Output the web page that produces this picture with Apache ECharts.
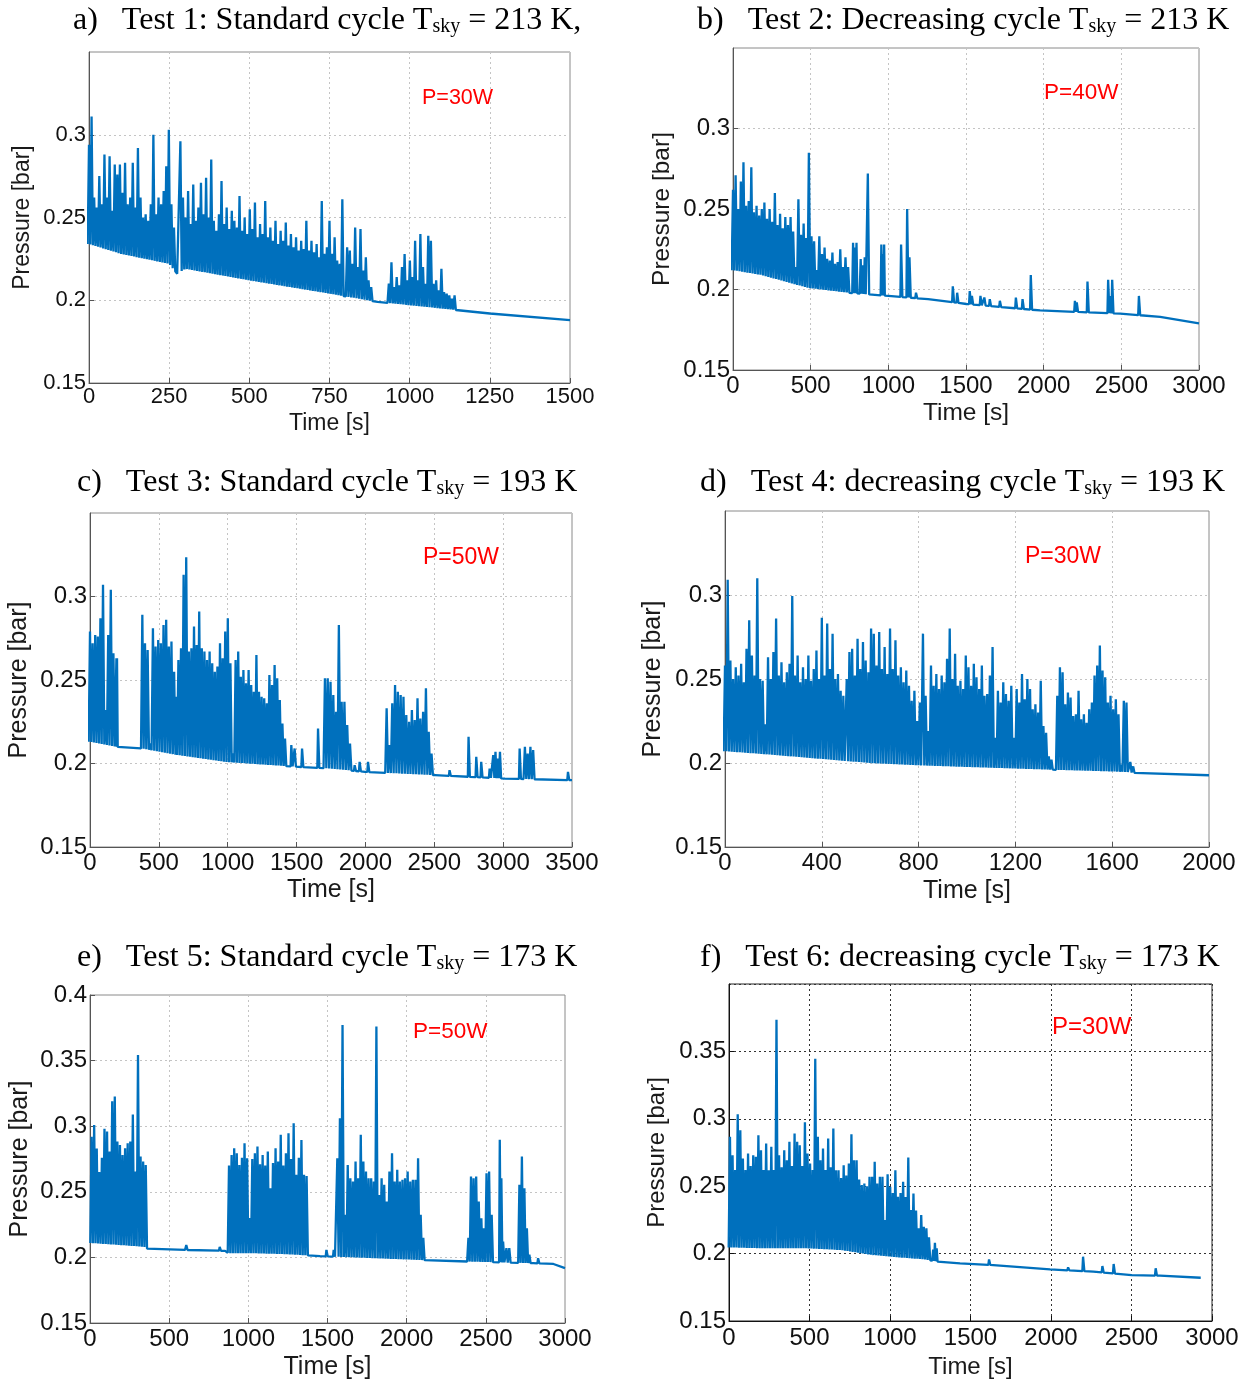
<!DOCTYPE html>
<html><head><meta charset="utf-8">
<script src="https://cdn.jsdelivr.net/npm/echarts/dist/echarts.min.js"></script>
<style>html,body{margin:0;padding:0;background:#fff}#c{width:1252px;height:1387px}</style>
</head><body><div id="c"></div>
<script>
// ---------- DATA ----------
// Panel a
const aBase = [[0,.234],[100,.228],[250,.222],[275,.216],[300,.219],[500,.212],[750,.204],[900,.199],[1000,.197],[1150,.194],[1250,.192],[1500,.188]];
const aBursts = [[0,265],[285,790],[805,880],[935,1140]];
const aPeaks = [
 [.294,.311,.262,.256,.275,.258,.288,.262,.287,.254,.282,.276,.282,.265,.283,.258,.262,.283,.256,.292,.262,.250,.252,.248,.258,.300,.252,.262,.258,.266,.281,.303,.258,.244],
 [.296,.262,.250,.266,.246,.270,.248,.256,.271,.252,.274,.250,.285,.248,.242,.252,.272,.246,.256,.243,.254,.248,.244,.263,.242,.250,.240,.255,.243,.259,.238,.246,.240,.260,.238,.244,.236,.248,.234,.242,.236,.247,.233,.240,.232,.238,.230,.236,.231,.248,.230,.236,.229,.234,.226,.260,.228,.232,.248,.228,.238,.224,.222,.261],
 [.232,.230,.222,.244,.220,.243,.218,.226,.212,.208],
 [.210,.223,.208,.214,.209,.220,.228,.212,.224,.214,.236,.212,.240,.220,.210,.239,.236,.210,.212,.206,.219,.205,.204,.203,.201,.203]
];
const aSpikes = [];

// Panel b
const bBase = [[0,.212],[183,.209],[483,.201],[741,.198],[1000,.196],[1256,.194],[1503,.191],[1977,.187],[2493,.185],[2750,.183],[3000,.179]];
const bBursts = [[0,741],[773,795],[822,848],[955,973]];
const bPeaks = [
 [.262,.271,.250,.267,.279,.252,.255,.276,.248,.252,.246,.250,.254,.244,.250,.242,.260,.240,.247,.238,.245,.240,.245,.236,.214,.256,.234,.241,.232,.285,.233,.230,.212,.233,.222,.226,.219,.218,.223,.216,.217,.225,.214,.220,.214],
 [.229,.226,.229],
 [.219,.215,.220],
 [.228,.222,.228]
];
const bSpikes = [[870,.272],[1084,.228],[1123,.250],[1138,.220],[1180,.198],[1417,.202],[1445,.198],[1526,.199],[1540,.196],[1595,.196],[1620,.195],[1655,.194],[1720,.193],[1823,.195],[1866,.194],[1919,.209],[2203,.193],[2215,.192],[2284,.205],[2417,.206],[2430,.196],[2443,.206],[2615,.196]];

// Panel c
const cBase = [[0,.213],[194,.210],[375,.209],[642,.205],[980,.201],[1319,.199],[1513,.198],[1743,.197],[1996,.195],[2505,.193],[3013,.191],[3500,.190]];
const cBursts = [[0,170],[380,630],[642,1416],[1706,1888],[2154,2480],[2928,2977],[3158,3218]];
const cPeaks = [
 [.279,.272,.277,.276,.287,.307,.232,.277,.304,.266],
 [.289,.272,.268,.212,.281,.270,.274,.272,.283,.286,.270,.273,.255,.240],
 [.262,.269,.313,.3235,.267,.269,.282,.271,.291,.269,.267,.262,.267,.260,.255,.258,.272,.263,.279,.287,.260,.206,.262,.267,.252,.256,.248,.256,.247,.243,.265,.243,.240,.239,.236,.253,.247,.259,.251,.238,.224,.215],
 [.251,.251,.249,.241,.231,.283,.237,.237,.223,.212],
 [.233,.211,.236,.247,.243,.241,.240,.229,.225,.232,.226,.239,.227,.231,.245,.219,.206],
 [.205,.207,.203,.207],
 [.210,.206,.210,.208]
];
const cSpikes = [[194,.263],[1464,.211],[1488,.209],[1542,.209],[1658,.221],[1924,.199],[1960,.201],[2021,.201],[2613,.196],[2751,.216],[2807,.204],[2843,.201],[2904,.197],[3122,.209],[3473,.195]];

// Panel d
const dBase = [[0,.207],[186,.205],[392,.2025],[599,.200],[805,.1986],[1005,.1976],[1356,.196],[1659,.1947],[1700,.194],[2000,.1927]];
const dBursts = [[0,489],[503,805],[818,1349],[1373,1659]];
const dPeaks = [
 [.258,.309,.261,.250,.257,.252,.259,.248,.268,.285,.264,.252,.310,.250,.249,.223,.263,.250,.266,.286,.252,.260,.248,.254,.259,.2994,.252,.264,.248,.257,.250,.264,.249,.256,.267,.250,.2865,.252,.283,.256,.277,.250,.253,.243,.240],
 [.250,.266,.268,.252,.274,.256,.272,.261,.254,.280,.277,.258,.278,.256,.269,.253,.280,.256,.273,.252,.257,.248,.255,.246,.237,.243,.225,.236],
 [.277,.240,.219,.258,.246,.253,.244,.252,.248,.262,.280,.250,.265,.246,.249,.244,.264,.257,.246,.259,.251,.244,.258,.240,.241,.252,.269,.215,.243,.236,.248,.241,.237,.246,.215,.244,.236,.253,.238,.250,.244,.232,.235,.230,.249,.222,.218,.204,.202],
 [.240,.257,.254,.235,.242,.239,.228,.229,.243,.226,.229,.224,.232,.236,.252,.258,.270,.255,.251,.236,.240,.232,.238,.229,.199,.237,.236]
];
const dSpikes = [[1676,.2006],[1688,.198]];

// Panel e
const eBase = [[0,.211],[179,.2095],[347,.208],[368,.206],[600,.2057],[853,.205],[874,.2032],[1021,.2032],[1231,.2025],[1453,.201],[2085,.198],[2400,.1968],[2800,.1956],[2927,.195],[3000,.1918]];
const eBursts = [[10,352],[878,1368],[1562,2105],[2390,2537],[2712,2775]];
const ePeaks = [
 [.292,.301,.283,.265,.276,.298,.2959,.2807,.319,.3226,.2883,.2857,.2781,.2832,.2870,.2883,.309,.2654,.3543,.2769,.2730,.2705],
 [.270,.2781,.2832,.2794,.2705,.276,.287,.2756,.230,.275,.2794,.2845,.271,.2781,.270,.2807,.2527,.272,.2832,.2730,.2934,.270,.2794,.2946,.275,.3023,.2629,.276,.2895,.2629,.262],
 [.2756,.3061,.3772,.2324,.2705,.2603,.2578,.2730,.2603,.2934,.2730,.2654,.2603,.2603,.2578,.3759,.2476,.2603,.2553,.2426,.2654,.2794,.2578,.2667,.2578,.2591,.2603,.2654,.2578,.2591,.2591,.2756,.2324,.215],
 [.215,.2616,.2603,.2616,.2426,.2299,.2222,.2641,.2654,.2324],
 [.2553,.2768,.2527,.2222,.2020]
];
const eSpikes = [[610,.2095],[821,.208],[1495,.2057],[1541,.2057],[2590,.2896],[2600,.2603],[2611,.2121],[2632,.2070],[2650,.2070],[2832,.1994]];

// Panel f
const fBase = [[0,.2046],[224,.2039],[493,.2039],[700,.2026],[886,.199],[1052,.1972],[1217,.1957],[1300,.194],[1435,.1928],[1642,.1915],[1994,.1883],[2263,.1866],[2501,.1841],[2677,.1836],[2930,.1821]];
const fBursts = [[6,1242],[1268,1290]];
const fPeaks = [
 [.2866,.2730,.262,.3034,.2915,.2705,.262,.2742,.265,.2730,.2718,.2878,.2767,.262,.2816,.2619,.2792,.262,.3735,.2730,.264,.2767,.2693,.2829,.265,.2890,.2829,.2804,.265,.2974,.2742,.2668,.262,.3446,.2866,.2693,.2779,.262,.2853,.264,.2928,.2619,.2619,.256,.2656,.258,.2668,.2886,.2693,.2693,.255,.2508,.2520,.250,.2570,.2570,.2681,.252,.2570,.2570,.2249,.2589,.2495,.245,.2619,.2421,.245,.2533,.242,.2713,.2323,.2446,.232,.2187,.2286,.2199,.2187,.212],
 [.203,.2081,.204]
];
const fSpikes = [[1617,.1957],[2108,.1898],[2201,.1977],[2321,.1908],[2391,.1923],[2652,.1891]];

// Titles / annotations (text)
const titles = [
 ['a)   Test 1: Standard cycle T', ' = 213 K,'],
 ['b)   Test 2: Decreasing cycle T', ' = 213 K'],
 ['c)   Test 3: Standard cycle T', ' = 193 K'],
 ['d)   Test 4: decreasing cycle T', ' = 193 K'],
 ['e)   Test 5: Standard cycle T', ' = 173 K'],
 ['f)   Test 6: decreasing cycle T', ' = 173 K']
];
const powers = ['P=30W','P=40W','P=50W','P=30W','P=50W','P=30W'];
const xMaxes = [1500,3000,3500,2000,3000,3000];
const xSteps = [250,500,500,400,500,500];
const yMaxes = [0.35,0.35,0.35,0.35,0.4,0.4];

// ---------- LAYOUT (pixels / styles) ----------
const layout = [
 {g:[89,52,481,331],  t:[73,3],    p:[422,87,21.5],  fs:22, nfs:23, yGap:55, xGap:29, xm:3, dark:false, showMax:false},
 {g:[733,48,466,322], t:[697,3],   p:[1044,81,22.5], fs:24, nfs:24.5, yGap:58, xGap:31, xm:4, dark:false, showMax:false},
 {g:[90,513,482,334], t:[77,465],  p:[423,546,23],   fs:24, nfs:25, yGap:58, xGap:31, xm:4, dark:false, showMax:false},
 {g:[725,511,484,336],t:[700,465], p:[1025,545,23],  fs:24, nfs:25, yGap:59, xGap:32, xm:4, dark:false, showMax:false},
 {g:[90,995,475,328], t:[77,940],  p:[413,1020,22.5],fs:24, nfs:25, yGap:57, xGap:32, xm:4, dark:false, showMax:true},
 {g:[729,984,483,337],t:[700,940], p:[1052,1015,24], fs:24, nfs:24, yGap:60, xGap:34, xm:5, dark:true, showMax:false}
];

const panelData = [
 [aBase,aBursts,aPeaks,aSpikes],
 [bBase,bBursts,bPeaks,bSpikes],
 [cBase,cBursts,cPeaks,cSpikes],
 [dBase,dBursts,dPeaks,dSpikes],
 [eBase,eBursts,ePeaks,eSpikes],
 [fBase,fBursts,fPeaks,fSpikes]
];

function baseAt(base, t) {
  if (t <= base[0][0]) return base[0][1];
  for (let i = 1; i < base.length; i++) {
    if (t <= base[i][0]) {
      const [t0,v0] = base[i-1], [t1,v1] = base[i];
      return v0 + (v1 - v0) * (t - t0) / (t1 - t0);
    }
  }
  return base[base.length-1][1];
}

function buildLine(base, bursts, peaks, spikes, w) {
  const pts = [];
  const ranges = bursts.map(([a,b],k) => {
    const n = peaks[k].length; const dt = (b - a) / (n - 1);
    return [a - dt, b + dt];
  });
  base.forEach(([t,v]) => {
    if (!ranges.some(([a,b]) => t >= a && t <= b)) pts.push([t, v]);
  });
  bursts.forEach(([a,b],k) => {
    const arr = peaks[k]; const n = arr.length; const dt = (b - a) / (n - 1);
    arr.forEach((p,i) => {
      const t = a + i * dt;
      pts.push([t - dt/2, baseAt(base, t - dt/2)]);
      pts.push([t, p]);
    });
    pts.push([b + dt/2, baseAt(base, b + dt/2)]);
  });
  spikes.forEach(([t,v]) => {
    pts.push([t - w, baseAt(base, t - w)]);
    pts.push([t - w*0.3, v]);
    pts.push([t + w*0.3, v]);
    pts.push([t + w, baseAt(base, t + w)]);
  });
  pts.sort((p,q) => p[0] - q[0]);
  return pts;
}

const grids = [], xAxes = [], yAxes = [], series = [], titleOpts = [], graphics = [];
const FONT = '"Liberation Sans", Arial, sans-serif';
const SERIF = '"Liberation Serif", "Times New Roman", serif';

layout.forEach((L, i) => {
  const [left, top, width, height] = L.g;
  const gridColor = L.dark ? '#333' : '#c4c4c4';
  const frame = L.dark ? '#222' : '#8a8a8a';
  grids.push({left, top, width, height, show:true, borderColor: frame, borderWidth:1, containLabel:false});
  xAxes.push({
    type:'value', gridIndex:i, min:0, max:xMaxes[i], interval:xSteps[i],
    name:'Time [s]', nameLocation:'middle', nameGap:L.xGap,
    nameTextStyle:{fontFamily:FONT, fontSize:L.nfs, color:'#1a1a1a'},
    axisLine:{show:true, onZero:false, lineStyle:{color: L.dark ? '#111' : '#555', width:1}},
    axisTick:{show:true, inside:true, length:5, lineStyle:{color: L.dark ? '#111' : '#555'}},
    axisLabel:{fontFamily:FONT, fontSize:L.fs, color:'#111', margin:L.xm, formatter:(v) => String(v)},
    splitLine:{show:true, lineStyle:{color:gridColor, type:[2,3], width:1}}
  });
  yAxes.push({
    type:'value', gridIndex:i, min:0.15, max:yMaxes[i], interval:0.05,
    name:'Pressure [bar]', nameLocation:'middle', nameGap:L.yGap,
    nameTextStyle:{fontFamily:FONT, fontSize:L.nfs, color:'#1a1a1a'},
    axisLine:{show:true, onZero:false, lineStyle:{color: L.dark ? '#111' : '#555', width:1}},
    axisTick:{show:true, inside:true, length:5, lineStyle:{color: L.dark ? '#111' : '#555'}},
    axisLabel:{fontFamily:FONT, fontSize:L.fs, color:'#111', margin:3, showMaxLabel:L.showMax, showMinLabel:true},
    splitLine:{show:true, lineStyle:{color:gridColor, type:[2,3], width:1}}
  });
  const [base, bursts, peaks, spikes] = panelData[i];
  const w = xMaxes[i] / width * 1.0;
  series.push({
    type:'line', xAxisIndex:i, yAxisIndex:i, showSymbol:false, symbol:'none', silent:true,
    animation:false, clip:true,
    lineStyle:{color:'#0070BD', width:2.3, join:'bevel'},
    data: buildLine(base, bursts, peaks, spikes, w)
  });
  titleOpts.push({
    left:L.t[0], top:L.t[1], padding:0,
    text:'{n|' + titles[i][0] + '}{s|sky}{n|' + titles[i][1] + '}',
    textStyle:{fontWeight:'normal', rich:{
      n:{fontFamily:SERIF, fontSize:32, fontWeight:'normal', color:'#000', lineHeight:36},
      s:{fontFamily:SERIF, fontSize:20, fontWeight:'normal', color:'#000', lineHeight:36, padding:[12,0,0,0]}
    }}
  });
  graphics.push({type:'text', left:L.p[0], top:L.p[1], z:100,
    style:{text:powers[i], fill:'#ff0000', font:L.p[2] + 'px ' + FONT}});
});

const chart = echarts.init(document.getElementById('c'), null, {renderer:'canvas'});
chart.setOption({
  backgroundColor:'#ffffff',
  animation:false,
  title:titleOpts,
  grid:grids, xAxis:xAxes, yAxis:yAxes, series:series, graphic:graphics
});
</script></body></html>
